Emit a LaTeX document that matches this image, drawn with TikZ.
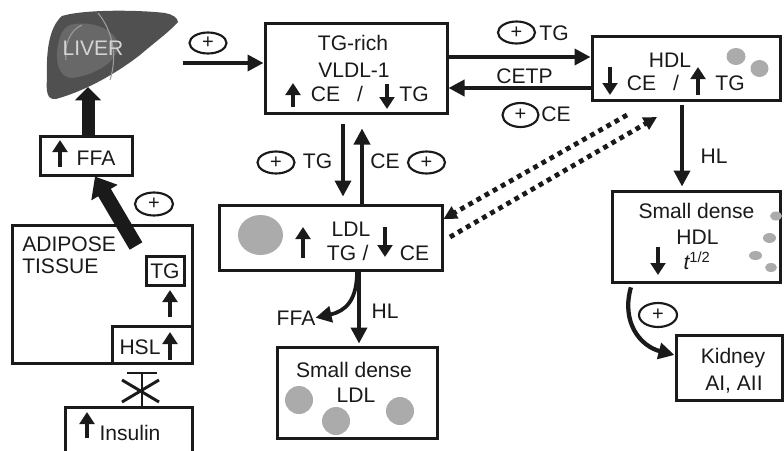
\documentclass[tikz,border=0pt]{standalone}
\usepackage{fontspec}
\setmainfont{Liberation Sans}
\usetikzlibrary{arrows.meta,shapes.geometric,calc}
\definecolor{ink}{HTML}{1A1A1A}
\definecolor{dotgray}{HTML}{ABABAB}
\definecolor{liverdark}{HTML}{505050}
\definecolor{livermid}{HTML}{686868}
\definecolor{liverline}{HTML}{9C9C9C}
\definecolor{livertext}{HTML}{D4D4D4}
\begin{document}
\begin{tikzpicture}[x=0.75pt,y=-0.75pt,
  wh/.style 2 args={minimum width=#1*0.75pt,minimum height=#2*0.75pt},
  box/.style={draw=ink,line width=2.25pt,inner sep=0pt,rectangle},
  lbl/.style={text=ink,inner sep=0pt,anchor=base,font=\fontsize{15.8}{18}\selectfont},
  plus/.style={draw=ink,ellipse,line width=1.6pt,inner sep=0pt,text=ink,font=\fontsize{15}{15}\selectfont},
  arr/.style={draw=ink,line width=2.8pt,-{Triangle[length=12pt,width=12pt]}},
  sarr/.style={draw=ink,line width=3.4pt,-{Triangle[length=9pt,width=11pt]}},
  dotline/.style={draw=ink,line width=3.6pt,dash pattern=on 3.6pt off 3.4pt,-{Triangle[length=10pt,width=10pt]}},
  blob/.style={fill=dotgray,draw=none},
  inhib/.style={draw=ink,line width=2.2pt}]
\useasboundingbox (0,0) rectangle (784,450);

% ---------- liver ----------
\fill[liverdark] (62,16) .. controls (85,9) and (140,10) .. (165,13)
  .. controls (172,14) and (178,18) .. (178,22)
  .. controls (168,33) and (155,42) .. (140,55)
  .. controls (118,72) and (88,90) .. (56,99)
  .. controls (47,100) and (46,92) .. (47,78)
  .. controls (46,52) and (49,27) .. (62,16) -- cycle;
\fill[livermid] (70,25) .. controls (90,20) and (115,28) .. (118,45)
  .. controls (118,62) and (95,75) .. (72,78)
  .. controls (58,78) and (55,60) .. (58,45)
  .. controls (60,35) and (63,28) .. (70,25) -- cycle;
\draw[liverline,line width=0.8pt] (98,13) .. controls (112,30) and (118,55) .. (110,80);
\draw[liverline,line width=0.8pt] (82,25) .. controls (70,30) and (64,45) .. (66,60);
\node[lbl,text=livertext] (livertxt) at (93,55) {LIVER};
\coordinate (liverout) at (183,63);
\coordinate (liverin) at (88,87);

% ---------- boxes ----------
\node[box,wh={182}{90}] (vldl) at (356,68) {};
\node[box,wh={188}{64}] (hdl) at (686,68) {};
\node[box,wh={223}{65}] (ldl) at (330.5,237.5) {};
\node[box,wh={160}{91}] (sdldl) at (357,392.5) {};
\node[box,wh={168}{91}] (sdhdl) at (696,236.5) {};
\node[box,wh={106}{65}] (kidney) at (729,367.5) {};
\node[box,wh={92}{39}] (ffa) at (86,155.5) {};
\node[box,wh={180}{138}] (adipose) at (102,294) {};
\node[box,wh={38}{29}] (tgbox) at (165,270.5) {};
\node[box,wh={80}{37}] (hsl) at (152,344.5) {};
\node[box,wh={127}{53}] (insulin) at (128.5,433.5) {};

% ---------- gray particles ----------
\fill[blob] (736,56.5) ellipse [x radius=9.5,y radius=8.5];
\fill[blob] (759.5,68.5) ellipse [x radius=9,y radius=8.5];
\fill[blob] (776,216) ellipse [x radius=6,y radius=4.5];
\fill[blob] (769.5,238) ellipse [x radius=6.5,y radius=5];
\fill[blob] (755.5,255.5) ellipse [x radius=6.5,y radius=4.5];
\fill[blob] (771,267.5) ellipse [x radius=6,y radius=4.5];
\fill[blob] (260.5,235) ellipse [x radius=22.5,y radius=20];
\fill[blob] (299,400) circle [radius=14];
\fill[blob] (336,421) circle [radius=14];
\fill[blob] (400,411) circle [radius=14];

% ---------- texts ----------
\node[lbl] (t1) at (353,50.5) {TG-rich};
\node[lbl] (t2) at (354,77.5) {VLDL-1};
\node[lbl] (t3) at (325.5,101) {CE};
\node[lbl] (t4) at (360,101) {/};
\node[lbl] (t5) at (414,101) {TG};

\node[lbl] (h1) at (670,67) {HDL};
\node[lbl] (h2) at (641.5,90) {CE};
\node[lbl] (h3) at (676,90) {/};
\node[lbl] (h4) at (730,90) {TG};

\node[lbl] (l1) at (351,236) {LDL};
\node[lbl] (l2) at (341.5,260.5) {TG};
\node[lbl] (l3) at (365.5,260.5) {/};
\node[lbl] (l4) at (414.5,260.5) {CE};

\node[lbl] (s1) at (354,377) {Small dense};
\node[lbl] (s2) at (356,402) {LDL};

\node[lbl] (d1) at (696.5,218) {Small dense};
\node[lbl] (d2) at (697.5,244) {HDL};
\node[lbl] (d3) at (697,269) {{\itshape t}\textsuperscript{1/2}};

\node[lbl] (k1) at (733,363) {Kidney};
\node[lbl] (k2) at (734,390) {AI, AII};

\node[lbl] (f1) at (96,165) {FFA};
\node[lbl,anchor=base west] (a1) at (22,251) {ADIPOSE};
\node[lbl,anchor=base west] (a2) at (22,273) {TISSUE};
\node[lbl] (a3) at (165,278) {TG};
\node[lbl] (a4) at (140,354) {HSL};
\node[lbl] (i1) at (130,440) {Insulin};

\node[lbl] (e1) at (554,40) {TG};
\node[lbl] (e2) at (524.5,83) {CETP};
\node[lbl] (e3) at (556,121) {CE};
\node[lbl] (e4) at (317.5,168) {TG};
\node[lbl] (e5) at (385,168) {CE};
\node[lbl] (e6) at (296,325) {FFA};
\node[lbl] (e7) at (385,318) {HL};
\node[lbl] (e8) at (714,163) {HL};

% ---------- plus circles ----------
\node[plus,wh={37}{21}] (p1) at (208,43) {+};
\node[plus,wh={37}{22}] (p2) at (516.5,32.5) {+};
\node[plus,wh={36}{24}] (p3) at (520.5,115) {+};
\node[plus,wh={37}{22}] (p4) at (276,162.5) {+};
\node[plus,wh={37}{22}] (p5) at (426.5,162.5) {+};
\node[plus,wh={38}{23}] (p6) at (154,204) {+};
\node[plus,wh={38}{24}] (p7) at (658,315) {+};

% ---------- small in-text arrows ----------
\draw[sarr] (293,107) -- (293,83);
\draw[sarr] (387,84) -- (387,109);
\draw[sarr] (610,67) -- (610,95);
\draw[sarr] (698,95) -- (698,67);
\draw[sarr] (303,258) -- (303,227);
\draw[sarr] (385,227) -- (385,257);
\draw[sarr] (658,247) -- (658,275);
\draw[sarr] (60,167) -- (60,140);
\draw[sarr] (170,317) -- (170,290);
\draw[sarr] (170,360) -- (170,332);
\draw[sarr] (87,438) -- (87,412);

% ---------- connectors ----------
\draw[arr] (liverout) -- (vldl.west |- liverout);
\draw[arr] (vldl.east |- 0,57) -- (hdl.west |- 0,57);
\draw[arr] (hdl.west |- 0,88) -- (vldl.east |- 0,88);
\draw[arr,shorten <=9*0.75pt,shorten >=7*0.75pt] (vldl.south -| 343,0) -- (ldl.north -| 343,0);
\draw[arr,shorten >=14*0.75pt] (ldl.north -| 362,0) -- (vldl.south -| 362,0);
\draw[arr,shorten <=3*0.75pt,shorten >=3*0.75pt] (hdl.south -| 682,0) -- (sdhdl.north -| 682,0);
\draw[arr,shorten >=2*0.75pt] (ldl.south -| 359,0) -- (sdldl.north -| 359,0);
\draw[arr] (ldl.south -| 357,0) .. controls (357,300) and (346,311) .. (e6.east);
\draw[arr,line width=3.2pt,shorten <=4*0.75pt] (sdhdl.south -| 632,0) .. controls (621,322) and (640,346) .. (kidney.west |- 0,355);

\coordinate (dotA) at (627,115);
\coordinate (dotB) at (450,237);
\coordinate (dotBtip) at (657,117);
\draw[dotline] (dotA) -- (ldl.east |- 0,219);
\draw[dotline] (dotB) -- (dotBtip);

% thick arrows on the left
\draw[draw=ink,line width=9.75pt,-{Triangle[length=10pt,width=19pt]}] (ffa.north -| liverin) -- (liverin);
\coordinate (adstart) at (136,246);
\draw[draw=ink,line width=11pt,-{Triangle[length=14pt,width=22pt]}] (adstart) -- (ffa.south -| 95,0);

% insulin inhibition
\coordinate (tbar) at (142,373);
\draw[inhib] (insulin.north -| tbar) -- (tbar);
\draw[inhib] (127,373) -- (157,373);
\draw[inhib] (122,380) -- (159,402);
\draw[inhib] (159,380) -- (122,402);
\end{tikzpicture}
\end{document}
